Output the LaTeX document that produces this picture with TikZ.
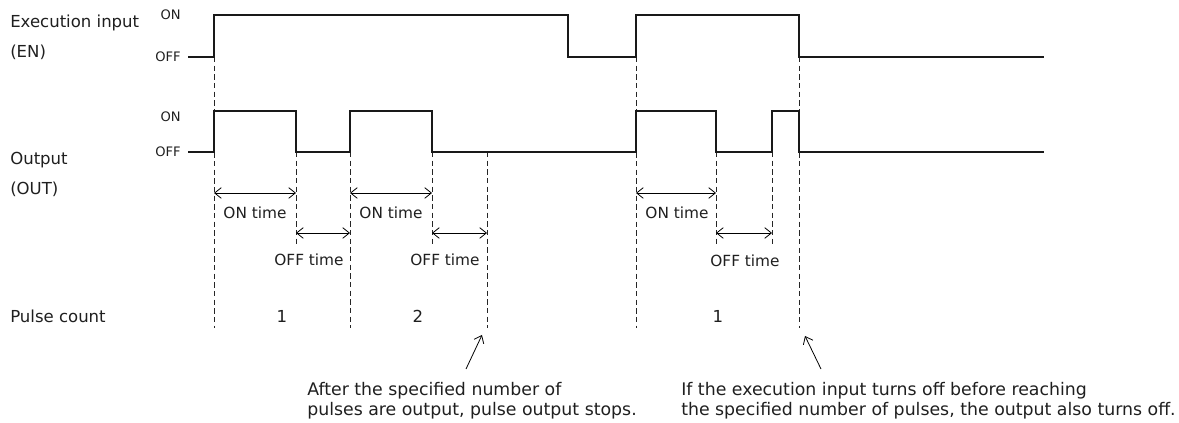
\documentclass[tikz,border=0pt]{standalone}
\usepackage{fontspec}
\setmainfont{DejaVu Sans}
\usetikzlibrary{arrows.meta}
\begin{document}
\begin{tikzpicture}[x=0.75pt,y=-0.75pt,
 sig/.style={line width=1.9pt, line join=miter, black!90},
 guide/.style={line width=0.7pt, dash pattern=on 4pt off 2.5pt, black!85},
 dim/.style={line width=0.6pt, {Straight Barb[length=5pt,width=8pt]}-{Straight Barb[length=5pt,width=8pt]}},
 ptr/.style={line width=0.6pt, -{Straight Barb[length=5pt,width=8pt]}},
 lbl/.style={font=\fontsize{12.4}{15}\selectfont, inner sep=0pt, anchor=west, text=black!88},
 lvl/.style={font=\fontsize{9.8}{12}\selectfont, inner sep=0pt, anchor=east, text=black!88},
 tlbl/.style={font=\fontsize{11.5}{14}\selectfont, inner sep=0pt, text=black!88},
 cnt/.style={font=\fontsize{12.4}{15}\selectfont, inner sep=0pt, text=black!88},
 note/.style={font=\fontsize{13}{15.4}\selectfont, inner sep=0pt, align=left, text=black!88}]

\useasboundingbox (0,0) rectangle (1179,423);

% left labels
\node[lbl] (enl1) at (10,23) {Execution input};
\node[lbl] (enl2) at (10,52) {(EN)};
\node[lbl] (outl1) at (10,160) {Output};
\node[lbl] (outl2) at (10,189) {(OUT)};
\node[lbl] (pcl) at (10,316) {Pulse count};
\node[lvl] (enon) at (181,15) {ON};
\node[lvl] (enoff) at (181,57) {OFF};
\node[lvl] (outon) at (181,117) {ON};
\node[lvl] (outoff) at (181,152) {OFF};

% EN waveform
\coordinate (e0) at (188,57);
\coordinate (e1) at (214,57);
\coordinate (e2) at (214,15);
\coordinate (e3) at (568,15);
\coordinate (e4) at (568,57);
\coordinate (e5) at (636,57);
\coordinate (e6) at (636,15);
\coordinate (e7) at (799,15);
\coordinate (e8) at (799,57);
\coordinate (e9) at (1044,57);

% OUT waveform
\coordinate (o0) at (188,152);
\coordinate (o1) at (214,152);
\coordinate (o2) at (214,111);
\coordinate (o3) at (296,111);
\coordinate (o4) at (296,152);
\coordinate (o5) at (350,152);
\coordinate (o6) at (350,111);
\coordinate (o7) at (432,111);
\coordinate (o8) at (432,152);
\coordinate (o9) at (636,152);
\coordinate (o10) at (636,111);
\coordinate (o11) at (716,111);
\coordinate (o12) at (716,152);
\coordinate (o13) at (772,152);
\coordinate (o14) at (772,111);
\coordinate (o15) at (799,111);
\coordinate (o16) at (799,152);
\coordinate (o17) at (1044,152);
\coordinate (p487) at (487,152);

% guide ends
\coordinate (g214) at (214,328);
\coordinate (g296) at (296,245);
\coordinate (g350) at (350,328);
\coordinate (g432) at (432,245);
\coordinate (g487) at (487,328);
\coordinate (g636) at (636,328);
\coordinate (g716) at (716,245);
\coordinate (g772) at (772,245);
\coordinate (g799) at (799,328);

\draw[guide] (e1) -- (g214);
\draw[guide] (o4) -- (g296);
\draw[guide] (o5) -- (g350);
\draw[guide] (o8) -- (g432);
\draw[guide] (p487) -- (g487);
\draw[guide] (e5) -- (g636);
\draw[guide] (o12) -- (g716);
\draw[guide] (o13) -- (g772);
\draw[guide] (e8) -- (g799);

\draw[sig] (e0) -- (e1) -- (e2) -- (e3) -- (e4) -- (e5) -- (e6) -- (e7) -- (e8) -- (e9);
\draw[sig] (o0) -- (o1) -- (o2) -- (o3) -- (o4) -- (o5) -- (o6) -- (o7) -- (o8) -- (o9) -- (o10) -- (o11) -- (o12) -- (o13) -- (o14) -- (o15) -- (o16) -- (o17);

% dimension arrows
\coordinate (a1l) at (214,193); \coordinate (a1r) at (296,193);
\coordinate (b1l) at (296,233); \coordinate (b1r) at (350,233);
\coordinate (a2l) at (350,193); \coordinate (a2r) at (432,193);
\coordinate (b2l) at (432,233); \coordinate (b2r) at (487,233);
\coordinate (a3l) at (636,193); \coordinate (a3r) at (716,193);
\coordinate (b3l) at (716,233); \coordinate (b3r) at (772,233);
\draw[dim] (a1l) -- (a1r);
\draw[dim] (b1l) -- (b1r);
\draw[dim] (a2l) -- (a2r);
\draw[dim] (b2l) -- (b2r);
\draw[dim] (a3l) -- (a3r);
\draw[dim] (b3l) -- (b3r);

\node[tlbl] (on1) at (255,213) {ON time};
\node[tlbl] (off1) at (309,260) {OFF time};
\node[tlbl] (on2) at (391,213) {ON time};
\node[tlbl] (off2) at (445,260) {OFF time};
\node[tlbl] (on3) at (677,213) {ON time};
\node[tlbl] (off3) at (745,261) {OFF time};

\node[cnt] (c1) at (282,316) {1};
\node[cnt] (c2) at (418,316) {2};
\node[cnt] (c3) at (718,316) {1};

% notes
\node[note, anchor=north east] (n1) at (637,382) {After the specified number of\\pulses are output, pulse output stops.};
\node[note, anchor=north west] (n2) at (681,382) {If the execution input turns off before reaching\\the specified number of pulses, the output also turns off.};

\coordinate (p1s) at (466,369); \coordinate (p1t) at (482,335);
\coordinate (p2s) at (821,369); \coordinate (p2t) at (805,336);
\draw[ptr] (p1s) -- (p1t);
\draw[ptr] (p2s) -- (p2t);
\end{tikzpicture}
\end{document}
